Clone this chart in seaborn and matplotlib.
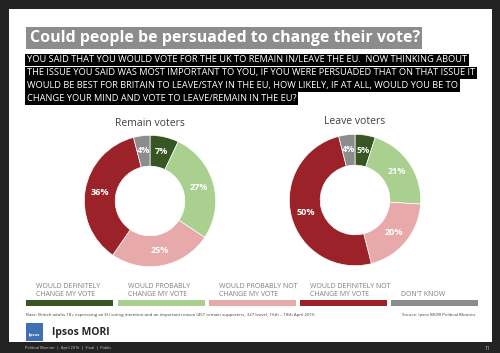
#!/usr/bin/env python3
"""Ipsos MORI slide: could people be persuaded to change their EU vote?"""

import matplotlib
matplotlib.use("Agg")
import matplotlib.pyplot as plt
from matplotlib.patches import Rectangle
import seaborn as sns

CATEGORIES = [
    "WOULD DEFINITELY\nCHANGE MY VOTE",
    "WOULD PROBABLY\nCHANGE MY VOTE",
    "WOULD PROBABLY NOT\nCHANGE MY VOTE",
    "WOULD DEFINITELY NOT\nCHANGE MY VOTE",
    "DON'T KNOW",
]
REMAIN = [7, 27, 25, 36, 4]
LEAVE = [5, 21, 20, 50, 4]
GROUPS = ["Remain voters", "Leave voters"]

COLORS = ["#375623", "#A9D08E", "#E8A9AA", "#9B2229", "#8C8C8C"]

QUESTION = [
    "YOU SAID THAT YOU WOULD VOTE FOR THE UK TO REMAIN IN/LEAVE THE EU.  NOW THINKING ABOUT",
    "THE ISSUE YOU SAID WAS MOST IMPORTANT TO YOU, IF YOU WERE PERSUADED THAT ON THAT ISSUE IT",
    "WOULD BE BEST FOR BRITAIN TO LEAVE/STAY IN THE EU, HOW LIKELY, IF AT ALL, WOULD YOU BE TO",
    "CHANGE YOUR MIND AND VOTE TO LEAVE/REMAIN IN THE EU?",
]

W, H = 500, 353


def px(x, y):
    """pixel coords (top-left origin) -> figure fraction"""
    return x / W, 1 - y / H


def donut(fig, cx, cy, r, values, title):
    x0, y0 = px(cx - r, cy + r)
    ax = fig.add_axes([x0, y0, 2 * r / W, 2 * r / H])
    ax.set_zorder(2)
    ax.pie(
        values, colors=COLORS, startangle=90, counterclock=False,
        radius=1.0, labels=[f"{v}%" for v in values], labeldistance=0.77,
        wedgeprops=dict(width=0.47, edgecolor="white", linewidth=0.5),
        textprops=dict(color="white", fontsize=6.6, fontweight="bold",
                       ha="center", va="center"),
    )
    ax.set_xlim(-1.02, 1.02)
    ax.set_ylim(-1.02, 1.02)
    ax.set_aspect("auto")
    ax.axis("off")
    tx, ty = px(cx, cy - r - 11)
    fig.text(tx, ty, title, ha="center", va="center", fontsize=7.5,
             color="#404040")


def main():
    sns.set_theme(style="white")
    plt.rcParams["font.family"] = ["Open Sans", "DejaVu Sans"]

    fig = plt.figure(figsize=(5, 3.53), dpi=100)
    fig.patch.set_facecolor("#232323")

    # white slide
    x0, y0 = px(9, 342)
    fig.patches.append(Rectangle((x0, y0), 483 / W, 333 / H,
                                 transform=fig.transFigure, zorder=-5,
                                 facecolor="white", edgecolor="none"))

    # title
    fig.patches.append(Rectangle(px(26, 49), 396 / W, 22 / H,
                                 transform=fig.transFigure, zorder=-4,
                                 facecolor="#8C8C8C", edgecolor="none"))
    tx, ty = px(30, 38)
    fig.text(tx, ty, "Could people be persuaded to change their vote?",
             ha="left", va="center", fontsize=11.5, fontweight="bold",
             color="white")

    # question text
    for i, line in enumerate(QUESTION):
        tx, ty = px(27, 60 + i * 12.8)
        fig.text(tx, ty, line, ha="left", va="center", fontsize=6.65,
                 color="white",
                 bbox=dict(facecolor="black", edgecolor="none", pad=1.2))

    donut(fig, 150, 201, 67, REMAIN, GROUPS[0])
    donut(fig, 355, 200, 67, LEAVE, GROUPS[1])

    # legend
    bar_x = [26, 118, 209, 300, 391]
    for xb, lab, col in zip(bar_x, CATEGORIES, COLORS):
        fig.patches.append(Rectangle(px(xb, 306), 87 / W, 6 / H,
                                     transform=fig.transFigure,
                                     facecolor=col, edgecolor="none"))
        tx, ty = px(xb + 10, 298)
        fig.text(tx, ty, lab, ha="left", va="bottom", fontsize=5,
                 color="#7F7F7F", linespacing=1.3)

    tx, ty = px(26, 315)
    fig.text(tx, ty,
             "Base: British adults 18+ expressing an EU voting intention and an "
             "important reason (457 remain supporters, 327 leave), 16th – 18th April 2016",
             ha="left", va="center", fontsize=3.2, color="#404040")
    tx, ty = px(475, 315)
    fig.text(tx, ty, "Source: Ipsos MORI Political Monitor", ha="right",
             va="center", fontsize=3.2, color="#404040")

    # logo
    fig.patches.append(Rectangle(px(26, 341), 17 / W, 18 / H,
                                 transform=fig.transFigure,
                                 facecolor="#3F6FB5", edgecolor="none"))
    tx, ty = px(34.5, 335)
    fig.text(tx, ty, "Ipsos", ha="center", va="center", fontsize=3.2,
             color="white", fontweight="bold")
    tx, ty = px(52, 333)
    fig.text(tx, ty, "Ipsos MORI", ha="left", va="center", fontsize=7.5,
             color="#262626", fontweight="bold")

    # footer
    tx, ty = px(25, 348)
    fig.text(tx, ty, "Political Monitor  |  April 2016  |  Final  |  Public",
             ha="left", va="center", fontsize=2.8, color="#D0D0D0")
    tx, ty = px(490, 348)
    fig.text(tx, ty, "11", ha="right", va="center", fontsize=3.5,
             color="#D0D0D0")

    fig.savefig("out.png", dpi=100, facecolor=fig.get_facecolor())
    plt.close(fig)


if __name__ == "__main__":
    main()
